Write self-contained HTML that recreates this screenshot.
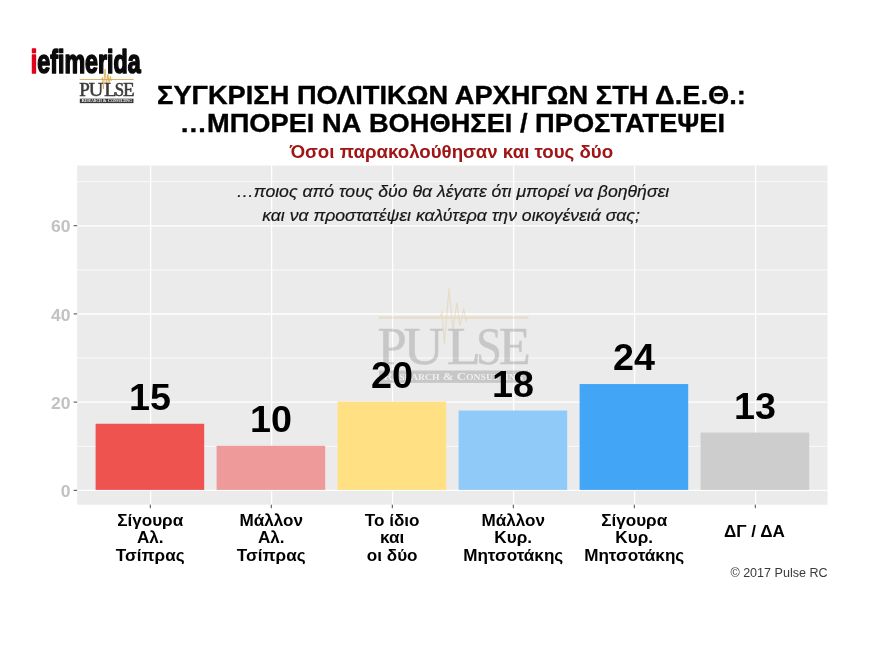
<!DOCTYPE html>
<html lang="el">
<head>
<meta charset="utf-8">
<title>Σύγκριση πολιτικών αρχηγών στη Δ.Ε.Θ.</title>
<style>
  html, body { margin: 0; padding: 0; background: #ffffff; }
  body { width: 880px; height: 660px; overflow: hidden; position: relative; }
  svg { position: absolute; left: 0; top: 0; display: block; }
  text { font-family: "Liberation Sans", sans-serif; text-anchor: middle; }
  .title { font-weight: bold; font-size: 26.1px; fill: #000; stroke: #000; stroke-width: 0.35px; }
  .sub { font-weight: bold; font-size: 17.9px; fill: #a01515; }
  .q { font-style: italic; font-size: 16.9px; fill: #161616; stroke: #161616; stroke-width: 0.2px; }
  .yl { font-weight: bold; font-size: 16.8px; fill: #c2c2c2; text-anchor: end; }
  .xl { font-weight: bold; font-size: 16.4px; fill: #000; }
  .val { font-weight: bold; font-size: 37.7px; fill: #000; }
  .cr { font-size: 12.05px; fill: #3a3a3a; text-anchor: end; }
  .serif { font-family: "Liberation Serif", serif; }
  .ief { font-weight: bold; font-size: 33.4px; text-anchor: start; stroke-width: 1.7px; stroke-linejoin: round; vector-effect: non-scaling-stroke; }
</style>
</head>
<body>
<svg width="880" height="660" viewBox="0 0 880 660">
  <rect x="0" y="0" width="880" height="660" fill="#ffffff"/>

  <!-- plot panel -->
  <rect x="77.2" y="165.5" width="750.3" height="339.2" fill="#ebebeb"/>
  <!-- minor grid -->
  <g stroke="#ffffff" stroke-width="0.75">
    <line x1="77.2" x2="827.5" y1="446.3" y2="446.3"/>
    <line x1="77.2" x2="827.5" y1="358.1" y2="358.1"/>
    <line x1="77.2" x2="827.5" y1="269.9" y2="269.9"/>
    <line x1="77.2" x2="827.5" y1="181.7" y2="181.7"/>
  </g>
  <!-- major grid -->
  <g stroke="#ffffff" stroke-width="1.3">
    <line x1="77.2" x2="827.5" y1="490.4" y2="490.4"/>
    <line x1="77.2" x2="827.5" y1="402.2" y2="402.2"/>
    <line x1="77.2" x2="827.5" y1="314.0" y2="314.0"/>
    <line x1="77.2" x2="827.5" y1="225.8" y2="225.8"/>
    <line x1="150.6" x2="150.6" y1="165.5" y2="504.7"/>
    <line x1="271.6" x2="271.6" y1="165.5" y2="504.7"/>
    <line x1="392.6" x2="392.6" y1="165.5" y2="504.7"/>
    <line x1="513.6" x2="513.6" y1="165.5" y2="504.7"/>
    <line x1="634.6" x2="634.6" y1="165.5" y2="504.7"/>
    <line x1="755.6" x2="755.6" y1="165.5" y2="504.7"/>
  </g>
  <!-- watermark -->
  <g transform="translate(379 317.1)" opacity="0.2">
    <rect x="-0.5" y="-0.7" width="150" height="2.3" fill="#d9a441"/>
    <polyline fill="none" stroke="#d9a441" stroke-width="1.3" stroke-linejoin="miter" points="60.5,0.4 63,-5 65.4,26.5 70,-28.5 74,13 77.9,-14.5 81,8.5 84.7,-8.5 87,3.5 88.5,0.4"/>
    <text class="serif" y="47.2" font-size="52.5" fill="#3a3a3a" stroke="#3a3a3a" stroke-width="0.5" style="text-anchor:start"><tspan x="-1.4">P</tspan><tspan x="24.5" textLength="40.4" lengthAdjust="spacingAndGlyphs">U</tspan><tspan x="67.8" textLength="34.1" lengthAdjust="spacingAndGlyphs">L</tspan><tspan x="97.1" textLength="25.9" lengthAdjust="spacingAndGlyphs">S</tspan><tspan x="119.7">E</tspan></text>
    <rect x="0" y="53.4" width="148.8" height="12.4" fill="#3a3a3a"/>
    <text class="serif" x="74.4" y="63.3" font-size="11.4" fill="#ffffff" font-weight="bold" textLength="140" lengthAdjust="spacingAndGlyphs">R<tspan font-size="8.6">ESEARCH</tspan> &amp; C<tspan font-size="8.6">ONSULTING</tspan></text>
  </g>
  <!-- bars -->
  <rect x="95.6" y="423.75" width="108.6" height="66.15" fill="#ef5350"/>
  <rect x="216.6" y="445.8" width="108.6" height="44.1" fill="#ef9a9a"/>
  <rect x="337.6" y="401.7" width="108.6" height="88.2" fill="#ffe082"/>
  <rect x="458.6" y="410.52" width="108.6" height="79.38" fill="#90caf9"/>
  <rect x="579.6" y="384.06" width="108.6" height="105.84" fill="#42a5f5"/>
  <rect x="700.6" y="432.57" width="108.6" height="57.33" fill="#cdcdcd"/>
  <!-- axis ticks -->
  <g stroke="#404040" stroke-width="0.95">
    <line x1="73.6" x2="77.2" y1="490.3" y2="490.3"/>
    <line x1="73.6" x2="77.2" y1="402.1" y2="402.1"/>
    <line x1="73.6" x2="77.2" y1="313.9" y2="313.9"/>
    <line x1="73.6" x2="77.2" y1="225.7" y2="225.7"/>
    <line x1="150.3" x2="150.3" y1="504.7" y2="508.2"/>
    <line x1="271.3" x2="271.3" y1="504.7" y2="508.2"/>
    <line x1="392.3" x2="392.3" y1="504.7" y2="508.2"/>
    <line x1="513.3" x2="513.3" y1="504.7" y2="508.2"/>
    <line x1="634.3" x2="634.3" y1="504.7" y2="508.2"/>
    <line x1="755.3" x2="755.3" y1="504.7" y2="508.2"/>
  </g>
  <!-- y axis labels -->
  <text class="yl" transform="translate(70.4 496.9) scale(1.044 1)">0</text>
  <text class="yl" transform="translate(70.4 408.7) scale(1.044 1)">20</text>
  <text class="yl" transform="translate(70.4 320.5) scale(1.044 1)">40</text>
  <text class="yl" transform="translate(70.4 232.3) scale(1.044 1)">60</text>
  <!-- value labels -->
  <text class="val" transform="translate(150.0 409.75) scale(1 1)">15</text>
  <text class="val" transform="translate(271.0 431.8) scale(1 1)">10</text>
  <text class="val" transform="translate(392.0 387.7) scale(1 1)">20</text>
  <text class="val" transform="translate(513.0 396.52) scale(1 1)">18</text>
  <text class="val" transform="translate(634.0 370.06) scale(1 1)">24</text>
  <text class="val" transform="translate(755.0 418.57) scale(1 1)">13</text>
  <!-- titles -->
  <text class="title" transform="translate(451.4 103.8) scale(1.044 1)">ΣΥΓΚΡΙΣΗ ΠΟΛΙΤΙΚΩΝ ΑΡΧΗΓΩΝ ΣΤΗ Δ.Ε.Θ.:</text>
  <text class="title" transform="translate(452.4 131.9) scale(1.044 1)">…ΜΠΟΡΕΙ ΝΑ ΒΟΗΘΗΣΕΙ / ΠΡΟΣΤΑΤΕΨΕΙ</text>
  <text class="sub" transform="translate(451.4 157.5) scale(1.044 1)">Όσοι παρακολούθησαν και τους δύο</text>
  <text class="q" transform="translate(452.7 196.5) scale(1.044 1)">…ποιος από τους δύο θα λέγατε ότι μπορεί να βοηθήσει</text>
  <text class="q" transform="translate(451.0 220.7) scale(1.044 1)">και να προστατέψει καλύτερα την οικογένειά σας;</text>
  <!-- x axis labels -->
  <text class="xl" transform="translate(150.2 525.6) scale(1.044 1)">Σίγουρα</text>
  <text class="xl" transform="translate(150.2 543.05) scale(1.044 1)">Αλ.</text>
  <text class="xl" transform="translate(150.2 560.5) scale(1.044 1)">Τσίπρας</text>
  <text class="xl" transform="translate(271.2 525.6) scale(1.044 1)">Μάλλον</text>
  <text class="xl" transform="translate(271.2 543.05) scale(1.044 1)">Αλ.</text>
  <text class="xl" transform="translate(271.2 560.5) scale(1.044 1)">Τσίπρας</text>
  <text class="xl" transform="translate(392.2 525.6) scale(1.044 1)">Το ίδιο</text>
  <text class="xl" transform="translate(392.2 543.05) scale(1.044 1)">και</text>
  <text class="xl" transform="translate(392.2 560.5) scale(1.044 1)">οι δύο</text>
  <text class="xl" transform="translate(513.2 525.6) scale(1.044 1)">Μάλλον</text>
  <text class="xl" transform="translate(513.2 543.05) scale(1.044 1)">Κυρ.</text>
  <text class="xl" transform="translate(513.2 560.5) scale(1.044 1)">Μητσοτάκης</text>
  <text class="xl" transform="translate(634.2 525.6) scale(1.044 1)">Σίγουρα</text>
  <text class="xl" transform="translate(634.2 543.05) scale(1.044 1)">Κυρ.</text>
  <text class="xl" transform="translate(634.2 560.5) scale(1.044 1)">Μητσοτάκης</text>
  <text class="xl" transform="translate(754.4 537.0) scale(1.044 1)">ΔΓ / ΔΑ</text>
  <text class="cr" transform="translate(827.6 577.2) scale(1.044 1)">© 2017 Pulse RC</text>
  <!-- iefimerida logo -->
  <text class="ief" transform="translate(30.8 73.0) scale(0.697 1)"><tspan fill="#e2001a" stroke="#e2001a">i</tspan><tspan fill="#0a0a0a" stroke="#0a0a0a">efimerida</tspan></text>
  <!-- pulse logo -->
  <g transform="translate(79.8 79.4) scale(0.3607)">
    <rect x="-0.5" y="-0.7" width="150" height="2.3" fill="#d9a441"/>
    <polyline fill="none" stroke="#d9a441" stroke-width="2.2" stroke-linejoin="miter" points="60.5,0.4 63,-5 65.4,26.5 70,-28.5 74,13 77.9,-14.5 81,8.5 84.7,-8.5 87,3.5 88.5,0.4"/>
    <text class="serif" y="47.2" font-size="52.5" fill="#3a3a3a" stroke="#3a3a3a" stroke-width="1.5" style="text-anchor:start"><tspan x="-1.4">P</tspan><tspan x="24.5" textLength="40.4" lengthAdjust="spacingAndGlyphs">U</tspan><tspan x="67.8" textLength="34.1" lengthAdjust="spacingAndGlyphs">L</tspan><tspan x="97.1" textLength="25.9" lengthAdjust="spacingAndGlyphs">S</tspan><tspan x="119.7">E</tspan></text>
    <rect x="0" y="53.4" width="148.8" height="12.4" fill="#3a3a3a"/>
    <text class="serif" x="74.4" y="63.3" font-size="11.4" fill="#ffffff" font-weight="bold" textLength="140" lengthAdjust="spacingAndGlyphs">R<tspan font-size="8.6">ESEARCH</tspan> &amp; C<tspan font-size="8.6">ONSULTING</tspan></text>
  </g>
</svg>
</body>
</html>
